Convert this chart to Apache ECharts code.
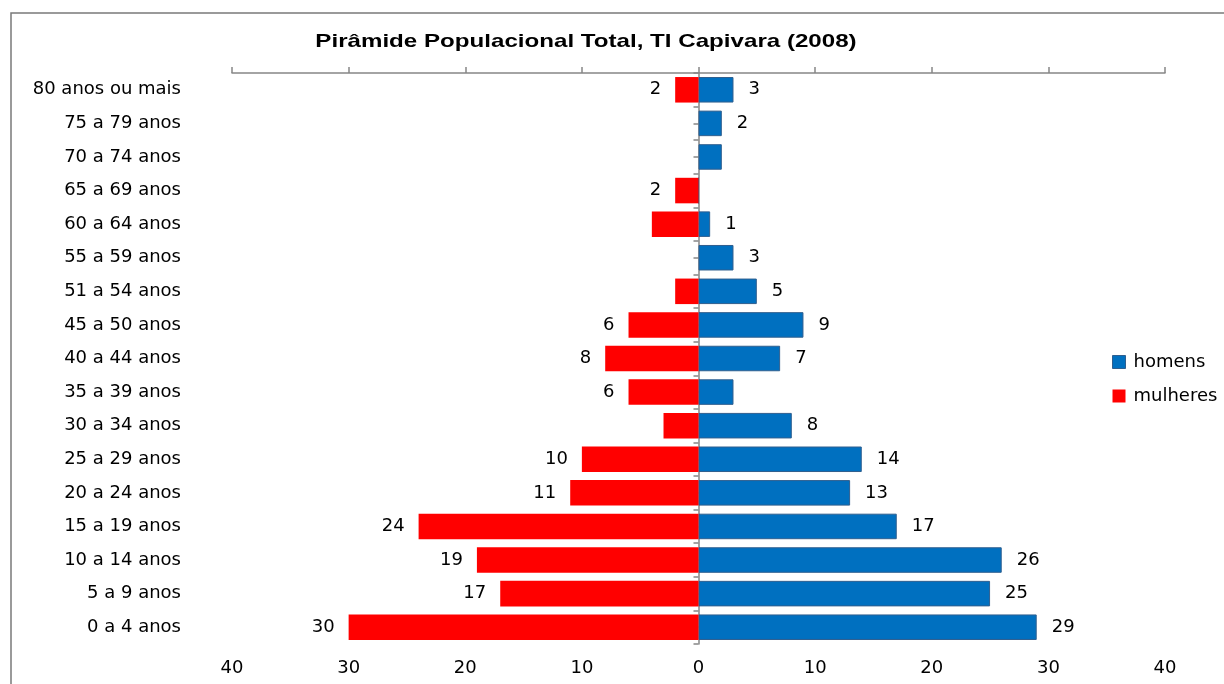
<!DOCTYPE html>
<html><head><meta charset="utf-8">
<script src="https://cdn.jsdelivr.net/npm/echarts@6/dist/echarts.min.js"></script>
<style>html,body{margin:0;padding:0;background:#fff}#c{width:1224px;height:684px}</style>
</head><body><div id="c"></div>
<script>
const titleText = 'Pirâmide Populacional Total, TI Capivara (2008)';
const categories = ["0 a 4 anos","5 a 9 anos","10 a 14 anos","15 a 19 anos","20 a 24 anos","25 a 29 anos","30 a 34 anos","35 a 39 anos","40 a 44 anos","45 a 50 anos","51 a 54 anos","55 a 59 anos","60 a 64 anos","65 a 69 anos","70 a 74 anos","75 a 79 anos","80 anos ou mais"];
const homens   = [29,25,26,17,13,14,8,3,7,9,5,3,1,0,2,2,3];
const mulheres = [30,17,19,24,11,10,3,6,8,6,2,0,4,2,0,0,2];
// which value labels are visible in the original
const homensLabelShown   = [1,1,1,1,1,1,1,0,1,1,1,1,1,0,0,1,1];
const mulheresLabelShown = [1,1,1,1,1,1,0,1,1,1,0,0,0,1,0,0,1];
const xTicks = [-40,-30,-20,-10,0,10,20,30,40];

const font = '"DejaVu Sans", "Open Sans", sans-serif';
const fs = 18;
const chart = echarts.init(document.getElementById('c'));
const axisGray = '#868686';
chart.setOption({
  animation:false,
  legend:{orient:'vertical',left:1112,top:353,padding:0,itemWidth:13,itemHeight:13,itemGap:16,icon:'rect',
    textStyle:{fontFamily:font,fontSize:fs,color:'#000',padding:[0,0,0,3]},
    data:[{name:'homens',itemStyle:{borderColor:'#2F5F8F',borderWidth:1}},'mulheres']},
  graphic:[
    {type:'rect',shape:{x:11,y:13,width:1300,height:800},style:{fill:'none',stroke:'#7a7a7a',lineWidth:1.5},silent:true},
    {type:'text',x:586,y:42,scaleX:1.27,style:{text:titleText,align:'center',verticalAlign:'middle',
      font:'bold 19px "Liberation Sans", Arial, sans-serif',fill:'#000'}}
  ],
  grid:{left:232,right:59,top:73,bottom:40},
  xAxis:[
    {type:'value',position:'bottom',min:xTicks[0],max:xTicks[xTicks.length-1],interval:10,
      axisLine:{show:false},axisTick:{show:false},splitLine:{show:false},
      axisLabel:{margin:15,fontFamily:font,fontSize:fs,color:'#000',formatter:v=>Math.abs(v)}},
    {type:'value',position:'top',min:xTicks[0],max:xTicks[xTicks.length-1],interval:10,
      axisLine:{show:true,onZero:false,lineStyle:{color:axisGray,width:1.5}},
      axisTick:{show:true,length:6,lineStyle:{color:axisGray,width:1.5}},
      splitLine:{show:false},axisLabel:{show:false}}
  ],
  yAxis:[
    {type:'category',data:categories,position:'left',
      axisLine:{show:false,onZero:false},axisTick:{show:false},
      axisLabel:{margin:51,fontFamily:font,fontSize:fs,color:'#000'}},
    {type:'category',data:categories,position:'right',
      axisLine:{show:true,onZero:true,onZeroAxisIndex:0,lineStyle:{color:axisGray,width:1.5}},
      axisTick:{show:true,inside:true,length:5,alignWithLabel:false,lineStyle:{color:axisGray,width:1.5}},
      axisLabel:{show:false}},
    {type:'category',data:categories,position:'right',
      axisLine:{show:false,onZero:true,onZeroAxisIndex:0},
      axisTick:{show:true,inside:true,length:5,alignWithLabel:true,lineStyle:{color:axisGray,width:1.5}},
      axisLabel:{show:false}}
  ],
  series:[
    {name:'homens',type:'bar',stack:'p',barCategoryGap:'24%',xAxisIndex:0,yAxisIndex:0,
      itemStyle:{color:'#0070C0',borderColor:'#2F5F8F',borderWidth:1},
      label:{show:true,position:'right',distance:15,fontFamily:font,fontSize:fs,color:'#000'},
      data:homens.map((v,i)=>({value:v,label:{show:!!homensLabelShown[i]}}))},
    {name:'mulheres',type:'bar',stack:'p',barCategoryGap:'24%',xAxisIndex:0,yAxisIndex:0,
      itemStyle:{color:'#FF0000'},
      label:{show:true,position:'left',distance:14,fontFamily:font,fontSize:fs,color:'#000',formatter:p=>Math.abs(p.value)},
      data:mulheres.map((v,i)=>({value:-v,label:{show:!!mulheresLabelShown[i]}}))}
  ]
});
</script></body></html>
